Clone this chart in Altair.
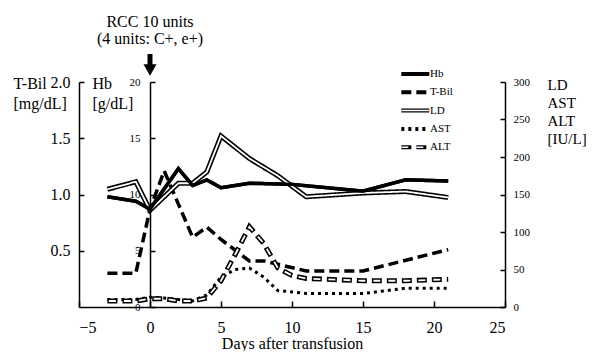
import altair as alt
import pandas as pd

# ---------------- data ----------------
hb_days = [-3, -1, 0, 2, 3, 4, 5, 7, 10, 15, 18, 21]
hb_vals = [9.8, 9.4, 8.7, 12.3, 10.8, 11.3, 10.6, 11.0, 10.9, 10.3, 11.3, 11.2]

tbil_days = [-3, -1, 0, 1, 3, 4, 5, 7, 8, 11, 15, 21]
tbil_vals = [0.30, 0.30, 0.87, 1.21, 0.62, 0.71, 0.60, 0.41, 0.41, 0.32, 0.32, 0.51]

ld_days = [-3, -1, 0, 2, 3, 4, 5, 7, 9, 11, 15, 18, 21]
ld_vals = [157, 167, 129, 165, 165, 180, 228, 198, 175, 147, 152, 154, 146]

ast_days = [-3, -1, 0, 1, 2, 3, 4, 5, 6, 7, 8, 9, 11, 15, 18, 21]
ast_vals = [10, 10, 13, 12, 10, 8, 16, 40, 50, 52, 40, 22, 18, 18, 25, 25]

alt_days = [-3, -1, 0, 1, 2, 3, 4, 5, 6, 7, 8, 9, 10, 11, 15, 18, 21]
alt_vals = [8, 8, 11, 11, 8, 8, 12, 35, 70, 107, 85, 52, 42, 38, 35, 35, 37]

series_order = ["Hb", "T-Bil", "LD", "AST", "ALT"]
x_ticks = [-5, 0, 5, 10, 15, 20, 25]
tbil_ticks = [0.5, 1.0, 1.5, 2.0]
hb_ticks = [0, 5, 10, 15, 20]
iu_ticks = [0, 50, 100, 150, 200, 250, 300]
annotation = ["RCC 10 units", "(4 units: C+, e+)"]

rows = []
for name, ds, vs in [("Hb", hb_days, hb_vals), ("T-Bil", tbil_days, tbil_vals),
                     ("LD", ld_days, ld_vals), ("AST", ast_days, ast_vals),
                     ("ALT", alt_days, alt_vals)]:
    for d, v in zip(ds, vs):
        rows.append({"day": d, "value": v, "series": name, "series_in": name})
df = pd.DataFrame(rows)
ann_df = pd.DataFrame({"day": [0]})

# ---------------- styling ----------------
FONT = "Liberation Serif"


def axis(**kw):
    base = dict(labelFont=FONT, labelColor="black", titleFont=FONT, titleColor="black",
                titleFontWeight="normal", domain=True, domainColor="black", domainWidth=1.5,
                ticks=False, grid=True, gridColor="black", gridWidth=1.5,
                gridOpacity=1, gridDash=[5, 3000], zindex=1)
    base.update(kw)
    return alt.Axis(**base)


x_enc = alt.X("day:Q", scale=alt.Scale(domain=[-5, 25], nice=False, zero=False),
              axis=axis(values=x_ticks, title="Days after transfusion",
                        labelFontSize=16, labelPadding=12, titleFontSize=16,
                        titlePadding=0, gridDash=[0, 219, 50, 3000]))

y_tbil = alt.Y("value:Q", scale=alt.Scale(domain=[0, 2], nice=False),
               axis=axis(orient="left", values=tbil_ticks, format=".1f",
                         labelFontSize=16, labelPadding=9,
                         title=["T-Bil", "[mg/dL]"], titleFontSize=16, titleAngle=0,
                         titleAlign="left", titleBaseline="alphabetic",
                         titleX=-66, titleY=6, titleLineHeight=20))

y_hb = alt.Y("value:Q", scale=alt.Scale(domain=[0, 20], nice=False),
             axis=axis(orient="left", offset=-71, values=hb_ticks,
                       labelFontSize=11, labelPadding=10, gridDash=[0, 71, 5, 3000],
                       title=["Hb", "[g/dL]"], titleFontSize=16, titleAngle=0,
                       titleAlign="left", titleBaseline="alphabetic",
                       titleX=-58, titleY=6, titleLineHeight=20))

y_iu = alt.Y("value:Q", scale=alt.Scale(domain=[0, 300], nice=False),
             axis=axis(orient="right", values=iu_ticks, labelFontSize=11,
                       labelPadding=8, title=["LD", "AST", "ALT", "[IU/L]"],
                       titleFontSize=15, titleAngle=0, titleAlign="left",
                       titleBaseline="alphabetic", titleX=42, titleY=7,
                       titleLineHeight=18))

y_iu_plain = alt.Y("value:Q", scale=alt.Scale(domain=[0, 300], nice=False), axis=None)
y_hb_plain = alt.Y("value:Q", scale=alt.Scale(domain=[0, 20], nice=False), axis=None)

SYM = "M-1,0H5"
LX, LY = 320, -15
legend_black = alt.Legend(title=None, orient="none", legendX=LX, legendY=LY,
                          symbolType=SYM, symbolSize=87, symbolStrokeWidth=4,
                          symbolStrokeColor="black", labelFont=FONT, labelFontSize=11,
                          labelColor="black", labelOffset=17, rowPadding=4.3,
                          clipHeight=14, padding=0)
legend_white = alt.Legend(title=None, orient="none", legendX=LX + 1.5, legendY=LY,
                          symbolType=SYM, symbolSize=87, symbolStrokeWidth=1.5,
                          labelFont=FONT, labelFontSize=11, labelExpr="''",
                          labelOffset=20, rowPadding=4.3, clipHeight=14, padding=0)

dash_scale = alt.Scale(domain=series_order,
                       range=[[1, 0], [10, 5], [1, 0], [3, 4], [10, 5]])
dash_black = alt.StrokeDash("series:N", scale=dash_scale, legend=legend_black)

inner_dash = alt.StrokeDash("series_in:N",
                            scale=alt.Scale(domain=series_order,
                                            range=[[1, 0], [1, 0], [1, 0], [1, 0], [7, 8]]),
                            legend=legend_white)
inner_color = alt.Color("series_in:N",
                        scale=alt.Scale(domain=series_order,
                                        range=["transparent", "transparent", "white",
                                               "transparent", "white"]),
                        legend=legend_white)

base = alt.Chart(df)


def sel(names):
    return alt.FieldOneOfPredicate(field="series", oneOf=names)


ld_black = base.transform_filter(sel(["LD"])).mark_line(
    color="black", strokeWidth=5).encode(x=x_enc, y=y_iu, strokeDash=dash_black)
alt_black = base.transform_filter(sel(["ALT"])).mark_line(
    color="black", strokeWidth=5).encode(x=x_enc, y=y_iu, strokeDash=dash_black)
ast_line = base.transform_filter(sel(["AST"])).mark_line(
    color="black", strokeWidth=3).encode(x=x_enc, y=y_iu, strokeDash=dash_black)
tbil_line = base.transform_filter(sel(["T-Bil"])).mark_line(
    color="black", strokeWidth=3.5).encode(x=x_enc, y=y_tbil, strokeDash=dash_black)
hb_line = base.transform_filter(sel(["Hb"])).mark_line(
    color="black", strokeWidth=3.5).encode(x=x_enc, y=y_hb, strokeDash=dash_black)

black = alt.layer(
    tbil_line,
    hb_line,
    alt.layer(ld_black, alt_black, ast_line),
).resolve_scale(y="independent")

white = base.transform_filter(sel(["LD", "ALT"])).mark_line(
    strokeWidth=1.8, strokeDashOffset=13.5).encode(
    x=x_enc, y=y_iu_plain, color=inner_color, strokeDash=inner_dash)

hb_top = base.transform_filter(sel(["Hb"])).mark_line(
    color="black", strokeWidth=3.5).encode(x=x_enc, y=y_hb_plain)

ann_text = alt.Chart(ann_df).mark_text(
    font=FONT, fontSize=16, color="black", align="center", baseline="alphabetic",
    lineHeight=17).encode(x=x_enc, y=alt.value(-55), text=alt.value(annotation))
ann_shaft = alt.Chart(ann_df).mark_rule(color="black", strokeWidth=5).encode(
    x=x_enc, y=alt.value(-28), y2=alt.value(-16))
ann_head = alt.Chart(ann_df).mark_point(
    shape="triangle-down", filled=True, size=170, color="black", opacity=1).encode(
    x=x_enc, y=alt.value(-12))

chart = alt.layer(black, white, hb_top, ann_text, ann_shaft, ann_head).resolve_scale(
    y="independent", strokeDash="independent", color="independent"
).properties(
    width=582, height=343, background="white",
    autosize=alt.AutoSizeParams(type="fit", contains="padding"),
    padding={"left": 5, "top": 6, "right": 3, "bottom": 0},
).configure_view(stroke=None)

chart.save("out.html", embed_options={"renderer": "svg", "actions": False})
